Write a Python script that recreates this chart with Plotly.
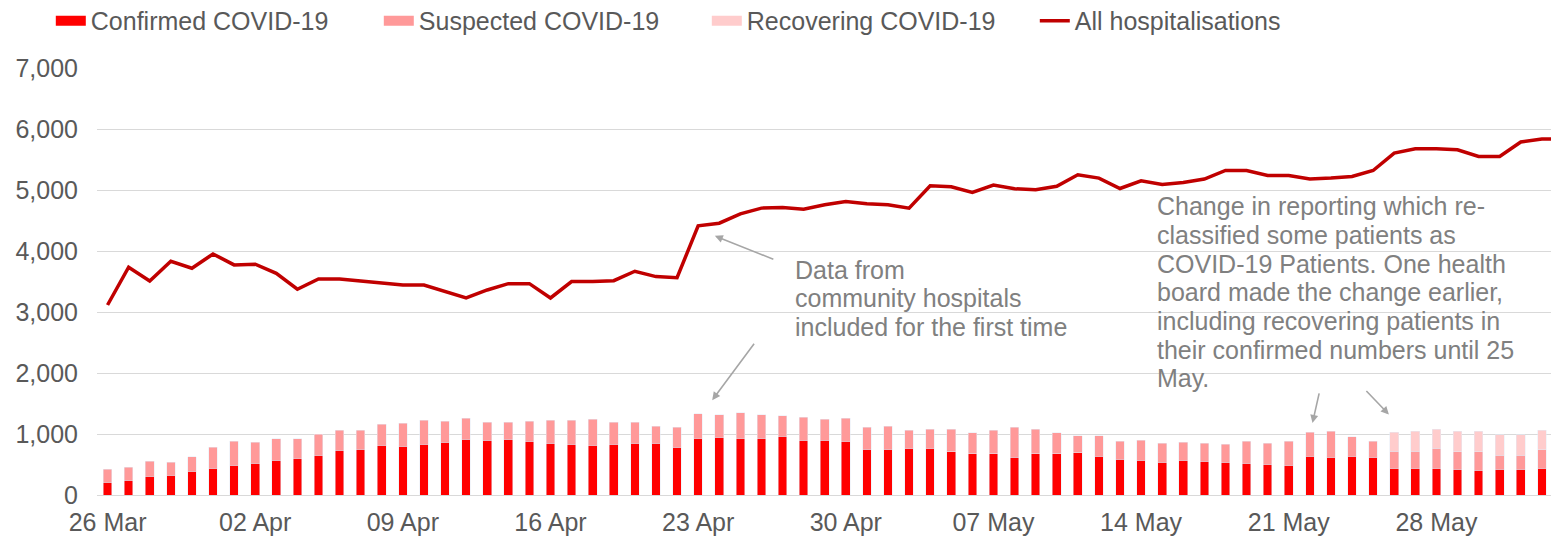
import pandas as pd
import plotly.graph_objects as go

# daily values
dates = pd.date_range("2020-03-26", "2020-06-02", freq="D")
line_dates = pd.date_range("2020-03-26", "2020-06-03", freq="D")

confirmed = [211, 244, 309, 326, 386, 441, 484, 523, 572, 605, 654, 731, 747, 818, 796,
             835, 867, 917, 900, 917, 884, 851, 835, 818, 835, 851, 851, 785, 933, 950,
             933, 933, 966, 900, 900, 884, 747, 747, 764, 764, 709, 676, 676, 621, 676,
             676, 692, 638, 588, 572, 539, 572, 556, 539, 523, 506, 490, 638, 621, 638,
             621, 435, 435, 435, 419, 402, 419, 419, 435]
suspected = [208, 208, 247, 213, 241, 339, 400, 345, 350, 317, 339, 328, 312, 345, 384,
             394, 345, 345, 296, 279, 328, 378, 394, 427, 361, 345, 279, 323, 400, 366,
             416, 383, 334, 378, 345, 378, 361, 383, 295, 312, 367, 345, 383, 487, 400,
             345, 280, 334, 296, 328, 312, 296, 295, 296, 361, 345, 394, 388, 422, 317,
             263, 285, 285, 329, 290, 307, 235, 235, 307]
recovering = [None] * 61 + [306, 323, 312, 334, 334, 334, 334, 317]
all_hosp = [3115, 3734, 3509, 3832, 3718, 3952, 3772, 3783, 3635, 3373, 3542, 3542, 3509,
            3476, 3443, 3443, 3333, 3230, 3361, 3465, 3465, 3230, 3498, 3498, 3514, 3668,
            3580, 3563, 4412, 4456, 4609, 4703, 4713, 4686, 4757, 4811, 4773, 4757, 4703,
            5069, 5053, 4959, 5080, 5020, 5003, 5060, 5250, 5195, 5025, 5151, 5090, 5123,
            5179, 5320, 5320, 5238, 5238, 5179, 5195, 5222, 5320, 5606, 5677, 5677, 5660,
            5550, 5550, 5786, 5835, 5840]

bar_names = ["Confirmed COVID-19", "Suspected COVID-19", "Recovering COVID-19"]
bar_colors = ["#ff0000", "#ff9999", "#ffcccc"]

note1 = ["Data from", "community hospitals", "included for the first time"]
note2 = ["Change in reporting which re-", "classified some patients as",
         "COVID-19 Patients. One health", "board made the change earlier,",
         "including recovering patients in", "their confirmed numbers until 25",
         "May."]

FONT = "Liberation Sans, Arial, sans-serif"
GREY = "#595959"
NOTE = "#808080"

fig = go.Figure()
for vals, name, col in zip([confirmed, suspected, recovering], bar_names, bar_colors):
    fig.add_trace(go.Bar(x=dates, y=vals, name=name, marker_color=col, showlegend=False))
    # wide swatch for the legend, like the Excel one
    fig.add_trace(go.Scatter(x=[None], y=[None], mode="lines", name=name,
                             line=dict(color=col, width=13)))
fig.add_trace(go.Scatter(x=line_dates, y=all_hosp, name="All hospitalisations", mode="lines",
                         line=dict(color="#c00000", width=3.5)))

for i, t in enumerate(note1):
    fig.add_annotation(x="2020-04-27 12:00", y=3690 - 468 * i, text=t, showarrow=False,
                       xanchor="left", yanchor="middle", font=dict(size=25, color=NOTE))
for i, t in enumerate(note2):
    fig.add_annotation(x="2020-05-14 16:00", y=4736 - 471 * i, text=t, showarrow=False,
                       xanchor="left", yanchor="middle", font=dict(size=25, color=NOTE))

# arrows
arrows = [("2020-04-23 19:00", 4248, 60, 24),
          ("2020-04-23 16:00", 1555, 43, -58),
          ("2020-05-22 03:00", 1182, 7, -31),
          ("2020-05-25 18:00", 1320, -24, -25)]
for x, y, ax, ay in arrows:
    fig.add_annotation(x=x, y=y, ax=ax, ay=ay, text="", showarrow=True,
                       arrowhead=2, arrowsize=1, arrowwidth=1.6, arrowcolor="#a6a6a6")

fig.update_layout(
    width=1559, height=540,
    barmode="stack", bargap=0.59,
    paper_bgcolor="white", plot_bgcolor="white",
    font=dict(family=FONT, size=25, color=GREY),
    margin=dict(l=89, r=8, t=60, b=53, autoexpand=False),
    showlegend=True,
    legend=dict(orientation="h", x=-0.0316, y=1.164, xanchor="left", yanchor="top",
                font=dict(size=25, color=GREY), entrywidth=283, entrywidthmode="pixels",
                traceorder="normal", bgcolor="rgba(0,0,0,0)"),
)
fig.update_xaxes(type="date", range=["2020-03-25 12:00", "2020-06-02 19:30"],
                 tick0="2020-03-26", dtick=7 * 24 * 3600 * 1000, tickformat="%d %b",
                 showgrid=False, showline=True, linecolor="#d9d9d9", linewidth=1,
                 ticks="", ticklabelstandoff=5, tickfont=dict(size=25, color=GREY))
fig.update_yaxes(range=[0, 7000], dtick=1000, tickformat=",", showgrid=True,
                 gridcolor="#d9d9d9", gridwidth=1, zeroline=False, ticks="",
                 ticklabelstandoff=18, tickfont=dict(size=25, color=GREY))

fig.write_html("out.html")
